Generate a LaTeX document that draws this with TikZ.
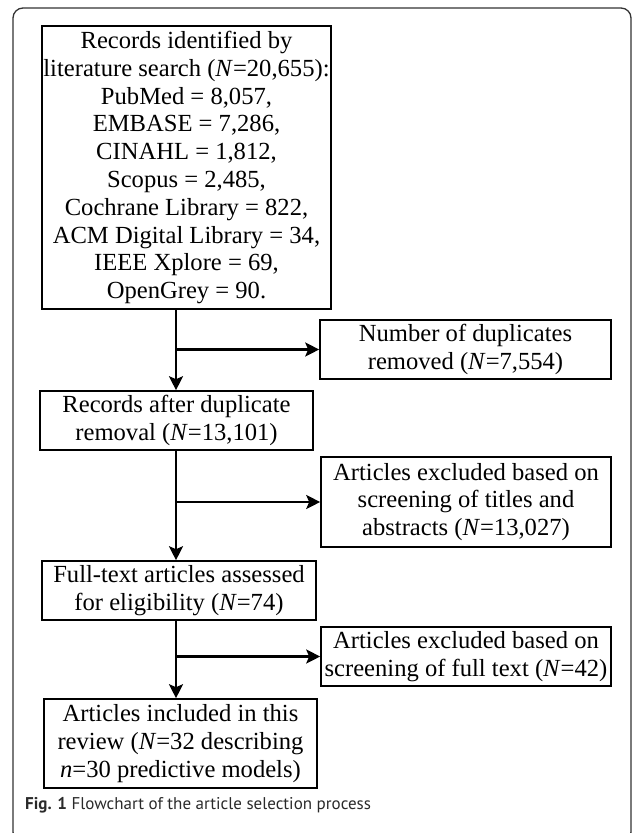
\documentclass[tikz,border=0pt]{standalone}
\usepackage{fontspec}
\setmainfont{Liberation Serif}
\newfontfamily\capfont{PT Sans}
\usetikzlibrary{arrows.meta,calc}
\definecolor{framec}{HTML}{333333}
\definecolor{capc}{HTML}{2A2A2A}
\begin{document}
\begin{tikzpicture}[x=1pt,y=-1pt,
  box/.style={draw=black, line width=1.6pt, align=center, inner sep=0pt,
    font=\fontsize{24.6}{27.8}\selectfont},
  arr/.style={draw=black, line width=2.2pt, -{Stealth[length=14pt,width=14pt,inset=3pt]}}]
\useasboundingbox (0,0) rectangle (633,833);
\draw[framec, line width=1.3pt, rounded corners=10pt] (13,8) rectangle (631,842);

\node[box, minimum width=289pt, minimum height=283pt] (b1) at (186.5,167.5)
  {Records identified by\\
   literature search (\textit{N}=20,655):\\
   PubMed = 8,057,\\
   EMBASE = 7,286,\\
   CINAHL = 1,812,\\
   Scopus = 2,485,\\
   Cochrane Library = 822,\\
   ACM Digital Library = 34,\\
   IEEE Xplore = 69,\\
   OpenGrey = 90.};
\node[box, minimum width=291pt, minimum height=59pt] (n1) at (465.5,349.5)
  {Number of duplicates\\ removed (\textit{N}=7,554)};
\node[box, minimum width=273pt, minimum height=59pt] (b2) at (176.5,420.5)
  {Records after duplicate\\ removal (\textit{N}=13,101)};
\node[box, minimum width=290pt, minimum height=90pt] (t2) at (466,502)
  {Articles excluded based on\\ screening of titles and\\ abstracts (\textit{N}=13,027)};
\node[box, minimum width=274pt, minimum height=59pt] (b3) at (179,590.5)
  {Full-text articles assessed\\ for eligibility (\textit{N}=74)};
\node[box, minimum width=290pt, minimum height=59pt] (t3) at (466,656.5)
  {Articles excluded based on\\ screening of full text (\textit{N}=42)};
\node[box, minimum width=273pt, minimum height=89pt] (b4) at (180.5,743.5)
  {Articles included in this\\ review (\textit{N}=32 describing\\ \textit{n}=30 predictive models)};

\coordinate (j1) at (176,349.5);
\coordinate (j2) at (176,502);
\coordinate (j3) at (176,656.5);
\draw[arr] (j1 |- b1.south) -- (j1 |- b2.north);
\draw[arr] (j1) -- (n1.west);
\draw[arr] (j2 |- b2.south) -- (j2 |- b3.north);
\draw[arr] (j2) -- (t2.west);
\draw[arr] (j3 |- b3.south) -- (j3 |- b4.north);
\draw[arr] (j3) -- (t3.west);

\node[anchor=west, inner sep=0pt, text=capc, font=\capfont\fontsize{17}{20}\selectfont] (cap) at (25,805)
  {\textbf{Fig. 1} Flowchart of the article selection process};
\end{tikzpicture}
\end{document}
